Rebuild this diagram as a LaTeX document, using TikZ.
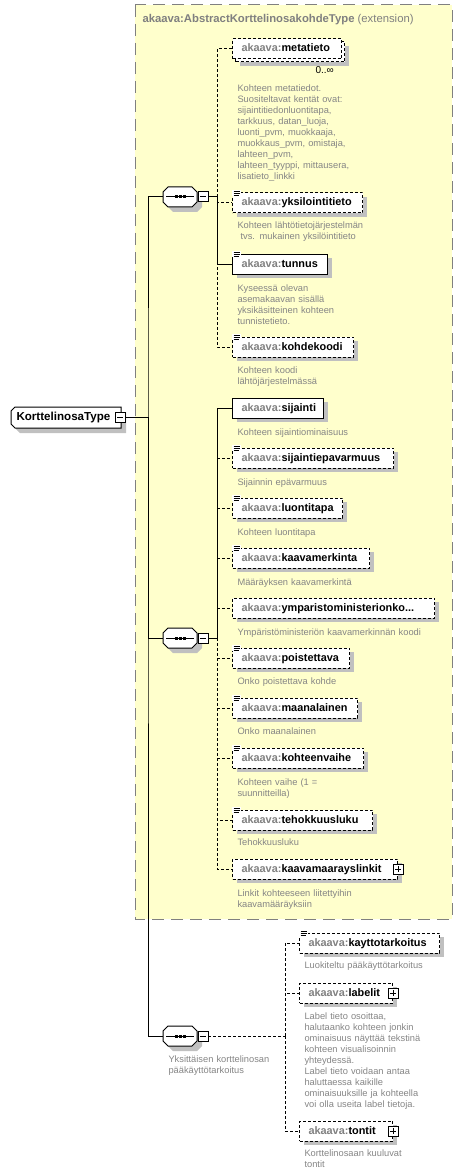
\documentclass[tikz,border=0pt]{standalone}
\usepackage{fontspec}
\setmainfont{Liberation Sans}
\usetikzlibrary{shadows,calc}
\definecolor{extfill}{HTML}{FFFFCC}
\definecolor{extborder}{HTML}{808080}
\definecolor{prefixgray}{HTML}{808080}
\definecolor{descgray}{HTML}{858585}
\definecolor{shadowgray}{HTML}{C0C0C0}
\newcommand{\akv}[1]{{\color{prefixgray}akaava:}#1}
\newcommand{\elbox}[2]{\makebox[#1pt][l]{\akv{#2}}}
\newcommand{\namefont}{\fontsize{10.9}{13}\selectfont\bfseries}
\newcommand{\descfont}{\fontsize{9.3}{11}\selectfont}
\tikzset{
  eb/.style={anchor=west, minimum height=20pt, inner xsep=9pt, inner ysep=0pt,
    text height=8pt, text depth=2pt, fill=white, draw=black, font=\namefont},
  sh/.style={drop shadow={shadow xshift=4pt, shadow yshift=-4pt, opacity=1, fill=shadowgray}},
  opt/.style={eb, sh, dash pattern=on 3pt off 2pt},
  req/.style={eb, sh},
  desc/.style={anchor=base west, inner sep=0pt, text width=230pt, align=left,
    font=\descfont, text=descgray},
  dconn/.style={dash pattern=on 3pt off 2pt},
  pics/seqc/.style={code={
    \fill[shadowgray] (-7,-5) -- (17,-5) -- (22,0) -- (22,10) -- (17,15) -- (-7,15) -- (-12,10) -- (-12,0) -- cycle;
    \draw[fill=white] (-12,-10) -- (12,-10) -- (17,-5) -- (17,5) -- (12,10) -- (-12,10) -- (-17,5) -- (-17,-5) -- cycle;
    \draw (-14,0) -- (14,0);
    \fill (-5.5,-1.5) rectangle (-2.5,1.5);
    \fill (-1.5,-1.5) rectangle (1.5,1.5);
    \fill (2.5,-1.5) rectangle (5.5,1.5);
    \draw[fill=white] (18,-5) rectangle (28,5);
    \draw (20,0) -- (26,0);
    \coordinate (-in) at (-17,0);
    \coordinate (-out) at (28,0);
  }},
  pics/plusb/.style={code={
    \draw[fill=white] (-5,-5) rectangle (5,5);
    \draw (-3,0) -- (3,0) (0,-3) -- (0,3);
  }},
  pics/doci/.style={code={
    \fill[white] (-0.5,-2.5) rectangle (9,3.5);
    \draw[line width=0.8pt] (1.5,-1.5) -- (8,-1.5) (1.5,0.5) -- (8,0.5) (1.5,2.5) -- (6.5,2.5);
  }},
}
\begin{document}
\begin{tikzpicture}[x=1pt,y=-1pt,line width=1pt]
\useasboundingbox (0,0) rectangle (467,1174);

% extension container
\draw[fill=extfill, draw=extborder, dash pattern=on 12pt off 7pt] (135,5) rectangle (452,919);
\node[anchor=base west, inner sep=0pt, text=prefixgray, font=\fontsize{11.3}{13}\selectfont] (title) at (142,23)
  {\textbf{akaava:AbstractKorttelinosakohdeType} (extension)};

% root
\fill[shadowgray] (20,412) -- (126,412) -- (126,433) -- (20,433) -- (16,429) -- (16,416) -- cycle;
\draw[fill=white] (15,407) -- (121,407) -- (121,428) -- (15,428) -- (11,424) -- (11,411) -- cycle;
\node[anchor=west, inner sep=0pt, text height=8pt, text depth=2pt, font=\fontsize{11.6}{13}\selectfont\bfseries] (root) at (16,417.5) {KorttelinosaType};
\draw[fill=white] (115,412) rectangle (125,422);
\draw (117,417) -- (123,417);
\coordinate (rootout) at (125,417);

% compositors
\pic (c1) at (180,197) {seqc};
\pic (c2) at (180,638) {seqc};
\pic (c3) at (180,1036) {seqc};
\node[desc] (c3desc) at (168,1062) {Yksittäisen korttelinosan\\pääkäyttötarkoitus};

% sequence 1 elements
\node[opt] (metaback) at (235,52) {\makebox[91pt]{}};
\node[eb, dash pattern=on 3pt off 2pt] (metatieto) at (232,49) {\elbox{91}{metatieto}};
\node[anchor=base west, inner sep=0pt, font=\fontsize{10}{12}\selectfont] (occ) at (315,74) {0..∞};
\node[desc] (d1) at (237,92) {Kohteen metatiedot.\\Suositeltavat kentät ovat:\\sijaintitiedonluontitapa,\\tarkkuus, datan\_luoja,\\luonti\_pvm, muokkaaja,\\muokkaus\_pvm, omistaja,\\lahteen\_pvm,\\lahteen\_tyyppi, mittausera,\\lisatieto\_linkki};

\node[opt] (yks) at (232,203) {\elbox{112}{yksilointitieto}};
\pic at (yks.north west) {doci};
\node[desc] (d2) at (237,229) {Kohteen lähtötietojärjestelmän\\\ tvs. mukainen yksilöintitieto};

\node[req] (tunnus) at (232,264) {\elbox{77}{tunnus}};
\pic at (tunnus.north west) {doci};
\node[desc] (d3) at (237,291) {Kyseessä olevan\\asemakaavan sisällä\\yksikäsitteinen kohteen\\tunnistetieto.};

\node[opt] (kohdekoodi) at (232,347) {\elbox{103}{kohdekoodi}};
\pic at (kohdekoodi.north west) {doci};
\node[desc] (d4) at (237,373) {Kohteen koodi\\lähtöjärjestelmässä};

% sequence 2 elements
\node[req] (sijainti) at (232,408) {\elbox{73}{sijainti}};
\node[desc] (d5) at (237,435) {Kohteen sijaintiominaisuus};

\node[opt] (sijep) at (232,458) {\elbox{143}{sijaintiepavarmuus}};
\pic at (sijep.north west) {doci};
\node[desc] (d6) at (237,485) {Sijainnin epävarmuus};

\node[opt] (luontitapa) at (232,508) {\elbox{92}{luontitapa}};
\pic at (luontitapa.north west) {doci};
\node[desc] (d7) at (237,535) {Kohteen luontitapa};

\node[opt] (kaavamerkinta) at (232,558) {\elbox{119}{kaavamerkinta}};
\pic at (kaavamerkinta.north west) {doci};
\node[desc] (d8) at (237,585) {Määräyksen kaavamerkintä};

\node[opt] (ymp) at (232,608) {\elbox{184}{ymparistoministerionko...}};
\node[desc] (d9) at (237,635) {Ympäristöministeriön kaavamerkinnän koodi};

\node[opt] (poistettava) at (232,658) {\elbox{99}{poistettava}};
\pic at (poistettava.north west) {doci};
\node[desc] (d10) at (237,684) {Onko poistettava kohde};

\node[opt] (maanalainen) at (232,708) {\elbox{107}{maanalainen}};
\pic at (maanalainen.north west) {doci};
\node[desc] (d11) at (237,734) {Onko maanalainen};

\node[opt] (kohteenvaihe) at (232,758) {\elbox{113}{kohteenvaihe}};
\pic at (kohteenvaihe.north west) {doci};
\node[desc] (d12) at (237,785) {Kohteen vaihe (1 =\\suunnitteilla)};

\node[opt] (tehokkuusluku) at (232,820) {\elbox{122}{tehokkuusluku}};
\pic at (tehokkuusluku.north west) {doci};
\node[desc] (d13) at (237,845) {Tehokkuusluku};

\node[opt] (linkit) at (232,869) {\elbox{147}{kaavamaarayslinkit}};
\pic at (linkit.east) {plusb};
\node[desc] (d14) at (237,896) {Linkit kohteeseen liitettyihin\\kaavamääräyksiin};

% sequence 3 elements
\node[opt] (kaytto) at (299,943) {\elbox{122}{kayttotarkoitus}};
\pic at (kaytto.north west) {doci};
\node[desc] (d15) at (304,968) {Luokiteltu pääkäyttötarkoitus};

\node[opt] (labelit) at (299,993) {\elbox{75}{labelit}};
\pic at (labelit.east) {plusb};
\node[desc] (d16) at (304,1019) {Label tieto osoittaa,\\halutaanko kohteen jonkin\\ominaisuus näyttää tekstinä\\kohteen visualisoinnin\\yhteydessä.\\Label tieto voidaan antaa\\haluttaessa kaikille\\ominaisuuksille ja kohteella\\voi olla useita label tietoja.};

\node[opt] (tontit) at (299,1131) {\elbox{75}{tontit}};
\pic at (tontit.east) {plusb};
\node[desc] (d17) at (304,1156) {Korttelinosaan kuuluvat\\tontit};

% connectors
\coordinate (j0) at (148,417);
\coordinate (bus1) at (217,197);
\coordinate (bus2) at (217,638);
\coordinate (bus3) at (285,1036);

\draw (rootout) -- (j0);
\draw (c1-in) -| (j0) |- (c3-in);
\draw (j0) |- (c2-in);
\draw (c1-out) -- (bus1);
\draw (c2-out) -- (bus2);
\draw[dconn] (c3-out) -- (bus3);

\draw[dconn] (bus1) |- (metatieto.west);
\draw[dconn] (bus1) |- (yks.west);
\draw[dconn] (bus1) |- (kohdekoodi.west);
\draw (bus1) |- (tunnus.west);

\draw[dconn] (bus2) |- (sijep.west);
\draw[dconn] (bus2) |- (luontitapa.west);
\draw[dconn] (bus2) |- (kaavamerkinta.west);
\draw[dconn] (bus2) |- (ymp.west);
\draw[dconn] (bus2) |- (poistettava.west);
\draw[dconn] (bus2) |- (maanalainen.west);
\draw[dconn] (bus2) |- (kohteenvaihe.west);
\draw[dconn] (bus2) |- (tehokkuusluku.west);
\draw[dconn] (bus2) |- (linkit.west);
\draw (bus2) |- (sijainti.west);

\draw[dconn] (bus3) |- (kaytto.west);
\draw[dconn] (bus3) |- (labelit.west);
\draw[dconn] (bus3) |- (tontit.west);
\end{tikzpicture}
\end{document}
